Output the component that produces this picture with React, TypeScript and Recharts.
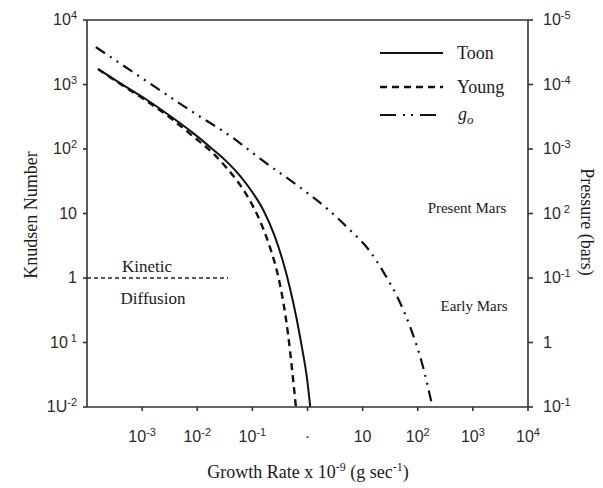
import { LineChart, Line, XAxis, YAxis, ReferenceLine } from "recharts";

// all values are log10 of the plotted quantity
const toonRate = [-3.8, -3.4, -2.91, -2.44, -2.08, -1.71, -1.46, -1.22, -1.0, -0.8, -0.6, -0.45, -0.32, -0.2, -0.1, -0.01, 0.05];
const toonKn = [3.24, 3.02, 2.76, 2.48, 2.25, 1.99, 1.8, 1.58, 1.33, 1.05, 0.66, 0.27, -0.15, -0.62, -1.08, -1.55, -2.0];

const youngRate = [-3.8, -3.4, -2.91, -2.44, -2.08, -1.71, -1.46, -1.22, -1.0, -0.82, -0.66, -0.53, -0.43, -0.35, -0.28, -0.21];
const youngKn = [3.24, 3.01, 2.74, 2.45, 2.2, 1.93, 1.7, 1.44, 1.13, 0.8, 0.42, 0.02, -0.42, -0.89, -1.42, -2.0];

const goRate = [-3.84, -3.04, -2.13, -1.35, -0.86, -0.13, 0.35, 0.75, 1.1, 1.4, 1.65, 1.88, 2.08, 2.26];
const goKn = [3.58, 3.12, 2.6, 2.17, 1.85, 1.4, 1.08, 0.76, 0.45, 0.06, -0.33, -0.8, -1.33, -1.97];

const xTicks = [-3, -2, -1, 0, 1, 2, 3, 4];
const xTickBase = ["10", "10", "10", "\u00b7", "10", "10", "10", "10"];
const xTickSup = ["-3", "-2", "-1", "", "", "2", "3", "4"];

const yTicks = [-2, -1, 0, 1, 2, 3, 4];
const knTickBase = ["1U", "10", "1", "10", "10", "10", "10"];
const knTickSup = ["-2", " 1", "", "", "2", "3", "4"];
const pTickBase = ["10", "1", "10", "10", "10", "10", "10"];
const pTickSup = ["-1", "", "-1", " 2", "-3", "-4", "-5"];

const kineticEnd = -1.44;

const zip = (xs: number[], ys: number[]) => xs.map((x, i) => ({ x, y: ys[i] }));
const toon = zip(toonRate, toonKn);
const young = zip(youngRate, youngKn);
const go = zip(goRate, goKn);

const SANS = "'Liberation Sans', Arial, sans-serif";
const SERIF = "'Liberation Serif', 'Times New Roman', serif";
const AXIS = "#333";

function makeTick(values: number[], base: string[], sup: string[], anchor: "start" | "end" | "middle", dy: number) {
  return (p: any) => {
    const i = values.indexOf(p.payload.value);
    if (i < 0) return <g />;
    return (
      <text x={p.x} y={p.y} dy={dy} textAnchor={anchor} fontSize={16} fontFamily={SANS} fill="#2a2a2a">
        {base[i]}
        {sup[i] && (
          <tspan dy={-6} fontSize={11}>
            {sup[i]}
          </tspan>
        )}
      </text>
    );
  };
}

export default function App() {
  return (
    <div style={{ position: "absolute", left: 0, top: 0, width: 603, height: 488, background: "#fff" }}>
      <LineChart width={603} height={488} margin={{ top: 20, right: 0, bottom: 0, left: 0 }}>
        <XAxis
          xAxisId="b"
          type="number"
          dataKey="x"
          domain={[-4, 4]}
          ticks={xTicks}
          interval={0}
          allowDataOverflow
          height={81}
          stroke={AXIS}
          strokeWidth={1.6}
          tickSize={4}
          tickMargin={18}
          tick={makeTick(xTicks, xTickBase, xTickSup, "middle", 13)}
        />
        <YAxis
          yAxisId="l"
          type="number"
          domain={[-2, 4]}
          ticks={yTicks}
          interval={0}
          allowDataOverflow
          width={87}
          stroke={AXIS}
          strokeWidth={1.6}
          tickSize={4}
          tickMargin={6}
          tick={makeTick(yTicks, knTickBase, knTickSup, "end", 5)}
        />
        <YAxis
          yAxisId="r"
          orientation="right"
          type="number"
          domain={[-2, 4]}
          ticks={yTicks}
          interval={0}
          allowDataOverflow
          width={75}
          stroke={AXIS}
          strokeWidth={1.6}
          tickSize={5}
          tickMargin={10}
          tick={makeTick(yTicks, pTickBase, pTickSup, "start", 5)}
        />
        <ReferenceLine xAxisId="b" yAxisId="l" y={4} stroke={AXIS} strokeWidth={1.6} />
        <ReferenceLine
          xAxisId="b"
          yAxisId="l"
          segment={[{ x: -4, y: 0 }, { x: kineticEnd, y: 0 }]}
          stroke="#222"
          strokeDasharray="4 3"
          strokeWidth={1.3}
        />
        <Line xAxisId="b" yAxisId="l" data={go} dataKey="y" type="monotone" stroke="#111" strokeWidth={2.2} strokeDasharray="11 6 2 6 2 6" dot={false} isAnimationActive={false} />
        <Line xAxisId="b" yAxisId="r" data={young} dataKey="y" type="monotone" stroke="#111" strokeWidth={2.4} strokeDasharray="7 5" dot={false} isAnimationActive={false} />
        <Line xAxisId="b" yAxisId="l" data={toon} dataKey="y" type="monotone" stroke="#111" strokeWidth={2} dot={false} isAnimationActive={false} />
      </LineChart>
      <svg width={603} height={488} style={{ position: "absolute", left: 0, top: 0, pointerEvents: "none" }} fontFamily={SERIF} fill="#1a1a1a">
        <line x1={380} y1={53} x2={443} y2={53} stroke="#111" strokeWidth={2} />
        <text x={457} y={59} fontSize={18}>Toon</text>
        <line x1={380} y1={87} x2={443} y2={87} stroke="#111" strokeWidth={2.4} strokeDasharray="7 5" />
        <text x={457} y={93} fontSize={18}>Young</text>
        <line x1={380} y1={115} x2={443} y2={115} stroke="#111" strokeWidth={2.2} strokeDasharray="16 7 2 6 2 7" />
        <text x={458} y={120} fontSize={18} fontStyle="italic">
          g<tspan dy={4} fontSize={13}>o</tspan>
        </text>
        <text x={147} y={272} fontSize={17} textAnchor="middle">Kinetic</text>
        <text x={153} y={304} fontSize={17} textAnchor="middle">Diffusion</text>
        <text x={467} y={213} fontSize={15} textAnchor="middle">Present Mars</text>
        <text x={474} y={311} fontSize={15} textAnchor="middle">Early Mars</text>
        <text x={0} y={0} fontSize={18} textAnchor="middle" transform="translate(37,215) rotate(-90)">Knudsen Number</text>
        <text x={0} y={0} fontSize={18} textAnchor="middle" transform="translate(581,222) rotate(90)">Pressure (bars)</text>
        <text x={308} y={478} fontSize={18} textAnchor="middle">
          Growth Rate x 10<tspan dy={-7} fontSize={12}>-9</tspan>
          <tspan dy={7}> (g sec</tspan>
          <tspan dy={-7} fontSize={12}>-1</tspan>
          <tspan dy={7}>)</tspan>
        </text>
      </svg>
    </div>
  );
}
